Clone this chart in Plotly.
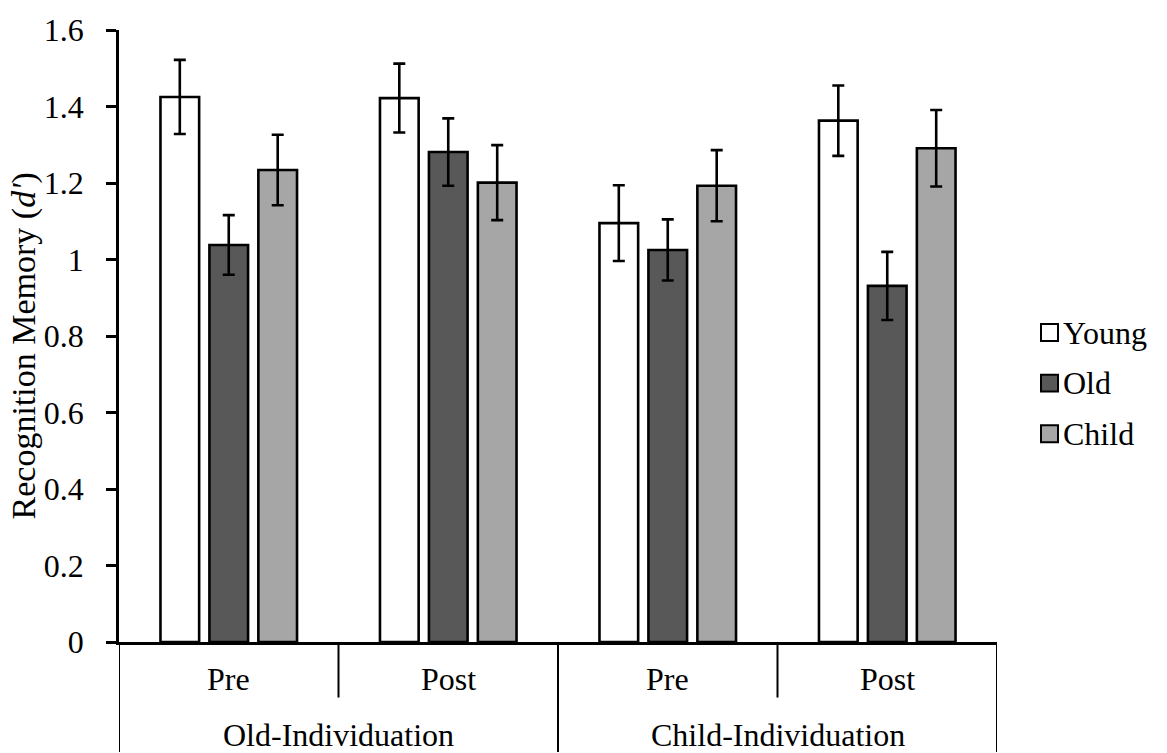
import plotly.graph_objects as go

# Conditions (outer level) and test phases (inner level) for each bar group
conditions = ["Old-Individuation", "Old-Individuation", "Child-Individuation", "Child-Individuation"]
phases = ["Pre", "Post", "Pre", "Post"]

# Recognition memory (d') by face age, with standard errors
young = [1.425, 1.422, 1.095, 1.363]
young_se = [0.097, 0.090, 0.099, 0.092]
old = [1.038, 1.281, 1.025, 0.931]
old_se = [0.078, 0.088, 0.080, 0.089]
child = [1.234, 1.201, 1.193, 1.291]
child_se = [0.092, 0.098, 0.093, 0.100]

series_names = ["Young", "Old", "Child"]
series_values = [young, old, child]
series_errors = [young_se, old_se, child_se]
series_colors = ["#ffffff", "#585858", "#a6a6a6"]

y_ticks = [0, 0.2, 0.4, 0.6, 0.8, 1, 1.2, 1.4, 1.6]

FONT = "Liberation Serif"
FS = 32
INK = "#000000"

fig = go.Figure()
x_pos = list(range(len(phases)))
for name, vals, errs, col in zip(series_names, series_values, series_errors, series_colors):
    fig.add_trace(go.Bar(
        x=x_pos, y=vals, name=name,
        marker=dict(color=col, line=dict(color=INK, width=2.6)),
        error_y=dict(type="data", array=errs, visible=True,
                     color=INK, thickness=2.6, width=6),
        showlegend=False,
    ))

# Geometry of the plotting area in pixels (used for the label rows and legend)
W, H = 1167, 753
ML, MR, MT, MB = 119, 170, 25, 111
PW, PH = W - ML - MR, H - MT - MB


def px_to_py(py):
    return (H - MB - py) / PH


def px_to_px(px):
    return (px - ML) / PW


shapes = []
annotations = []

# Inner label row: phase names, with dividers between phases
for i, ph in enumerate(phases):
    annotations.append(dict(x=i, y=px_to_py(679), xref="x", yref="paper",
                            text=ph, showarrow=False, xanchor="center", yanchor="middle",
                            font=dict(family=FONT, size=FS, color=INK)))
for i in range(len(phases) - 1):
    if conditions[i] == conditions[i + 1]:
        shapes.append(dict(type="line", xref="x", yref="paper", x0=i + 0.5, x1=i + 0.5,
                           y0=0, y1=px_to_py(698), line=dict(color=INK, width=2)))

# Outer label row: condition names, with full-height dividers at group boundaries
bounds = [-0.5]
groups = []
start = 0
for i in range(1, len(conditions) + 1):
    if i == len(conditions) or conditions[i] != conditions[start]:
        groups.append((conditions[start], start, i - 1))
        bounds.append(i - 0.5)
        start = i
for name, a, b in groups:
    annotations.append(dict(x=(a + b) / 2, y=px_to_py(736), xref="x", yref="paper",
                            text=name, showarrow=False, xanchor="center", yanchor="middle",
                            font=dict(family=FONT, size=FS, color=INK)))
for xb in bounds:
    shapes.append(dict(type="line", xref="x", yref="paper", x0=xb, x1=xb,
                       y0=0, y1=px_to_py(H), line=dict(color=INK, width=2)))

# Legend drawn as boxes plus labels
legend_rows = [330, 381, 432]
for name, col, yc in zip(series_names, series_colors, legend_rows):
    shapes.append(dict(type="rect", xref="paper", yref="paper",
                       x0=px_to_px(1041), x1=px_to_px(1058),
                       y0=px_to_py(yc + 8.5), y1=px_to_py(yc - 8.5),
                       fillcolor=col, line=dict(color=INK, width=2)))
    annotations.append(dict(x=px_to_px(1061), y=px_to_py(yc), xref="paper", yref="paper",
                            text=name, showarrow=False, xanchor="left", yanchor="middle",
                            font=dict(family=FONT, size=FS, color=INK)))

# Y-axis title
annotations.append(dict(x=px_to_px(24), y=px_to_py(344), xref="paper", yref="paper",
                        text="Recognition Memory (<i>d'</i>)", textangle=-90,
                        showarrow=False, xanchor="center", yanchor="middle",
                        font=dict(family=FONT, size=34, color=INK)))

fig.update_layout(
    width=W, height=H,
    margin=dict(l=ML, r=MR, t=MT, b=MB, pad=0),
    paper_bgcolor="white", plot_bgcolor="white",
    barmode="group", bargap=0.331, bargroupgap=0.21,
    font=dict(family=FONT, size=FS, color=INK),
    shapes=shapes, annotations=annotations,
    xaxis=dict(range=[-0.5, len(phases) - 0.5], showline=True, linecolor=INK, linewidth=2.6,
               showticklabels=False, ticks="", showgrid=False, zeroline=False, fixedrange=True),
    yaxis=dict(range=[0, 1.6], tickvals=y_ticks, showline=True, linecolor=INK, linewidth=2.6,
               ticks="outside", ticklen=10, tickwidth=2.6, tickcolor=INK,
               ticklabelstandoff=16,
               tickfont=dict(family=FONT, size=FS, color=INK),
               showgrid=False, zeroline=False, fixedrange=True),
)

fig.write_html("out.html", config={"displayModeBar": False})
